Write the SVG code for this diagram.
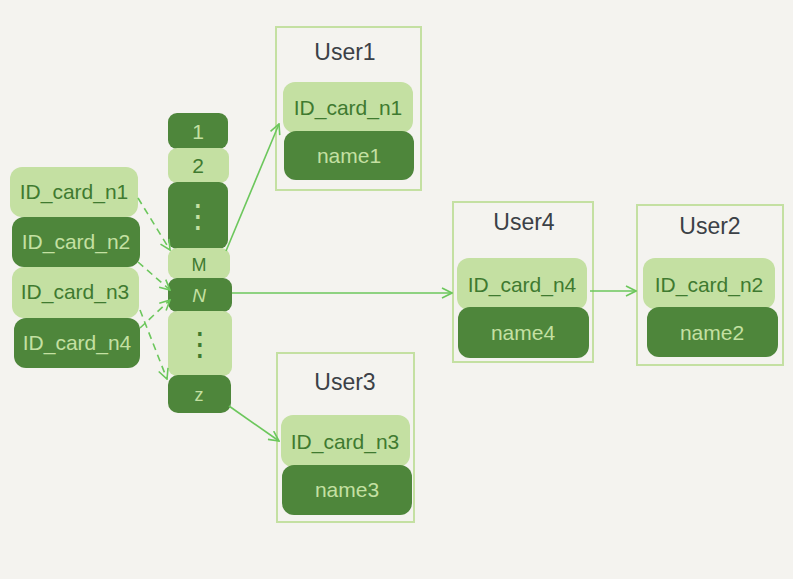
<svg xmlns="http://www.w3.org/2000/svg" width="793" height="579" viewBox="0 0 793 579">
<defs>
<marker id="ah" viewBox="0 0 12 12" refX="11" refY="6" markerWidth="12" markerHeight="12" markerUnits="userSpaceOnUse" orient="auto">
<path d="M1,1 L11,6 L1,11" fill="none" stroke="#6cc75c" stroke-width="1.6"/>
</marker>
<style>
.lt{fill:#c4e0a2}
.dk{fill:#4e863b}
.tl{font-family:"Liberation Sans",Arial,sans-serif;font-size:21px;fill:#3f7a30;text-anchor:middle}
.td{font-family:"Liberation Sans",Arial,sans-serif;font-size:21px;fill:#c4e0a2;text-anchor:middle}
.ti{font-family:"Liberation Sans",Arial,sans-serif;font-size:23px;fill:#3b4046;text-anchor:middle}
.dots{font-family:"DejaVu Sans",sans-serif;font-size:32px}
.frame{fill:none;stroke:#c4e0a2;stroke-width:2}
.cn{fill:none;stroke:#6cc75c;stroke-width:1.6;marker-end:url(#ah)}
.ds{stroke-dasharray:7,5}
</style>
</defs>
<rect width="793" height="579" fill="#f4f3ef"/>

<g id="keys">
<g id="k1"><rect class="lt" x="10" y="167" width="128" height="50" rx="12"/><text class="tl" x="74" y="199">ID_card_n1</text></g>
<g id="k2"><rect class="dk" x="12" y="217" width="128" height="50" rx="12"/><text class="td" x="76" y="249">ID_card_n2</text></g>
<g id="k3"><rect class="lt" x="12" y="267" width="127" height="51" rx="12"/><text class="tl" x="75" y="299">ID_card_n3</text></g>
<g id="k4"><rect class="dk" x="14" y="318" width="126" height="50" rx="12"/><text class="td" x="77" y="350">ID_card_n4</text></g>
</g>

<g id="index">
<g id="i1"><rect class="dk" x="168" y="113" width="60" height="36" rx="9"/><text class="td" x="198" y="139">1</text></g>
<g id="i2"><rect class="lt" x="168" y="148" width="61" height="35" rx="9"/><text class="tl" x="198" y="173">2</text></g>
<g id="i3"><rect class="dk" x="168" y="182" width="60" height="67" rx="9"/><text class="td dots" x="198" y="227">⋮</text></g>
<g id="iM"><rect class="lt" x="168" y="248" width="62" height="31" rx="9"/><text class="tl" x="199" y="271" style="font-size:18px">M</text></g>
<g id="iN"><rect class="dk" x="168" y="278" width="64" height="34" rx="9"/><text class="td" x="199" y="302" style="font-size:19px;font-style:italic">N</text></g>
<g id="i6"><rect class="lt" x="168" y="311" width="64" height="65" rx="9"/><text class="tl dots" x="200" y="355">⋮</text></g>
<g id="iz"><rect class="dk" x="168" y="375" width="63" height="38" rx="10"/><text class="td" x="199" y="401" style="font-size:18px">z</text></g>
</g>

<g id="user1">
<rect class="frame" x="276" y="27" width="145" height="163"/>
<text class="ti" x="345" y="60">User1</text>
<rect class="lt" x="283" y="82" width="130" height="51" rx="12"/><text class="tl" x="348" y="115">ID_card_n1</text>
<rect class="dk" x="284" y="131" width="130" height="49" rx="12"/><text class="td" x="349" y="163">name1</text>
</g>

<g id="user4">
<rect class="frame" x="453" y="202" width="140" height="160"/>
<text class="ti" x="524" y="230">User4</text>
<rect class="lt" x="457" y="258" width="130" height="52" rx="12"/><text class="tl" x="522" y="292">ID_card_n4</text>
<rect class="dk" x="458" y="307" width="131" height="51" rx="12"/><text class="td" x="523" y="340">name4</text>
</g>

<g id="user2">
<rect class="frame" x="637" y="205" width="146" height="160"/>
<text class="ti" x="710" y="234">User2</text>
<rect class="lt" x="643" y="258" width="132" height="51" rx="12"/><text class="tl" x="709" y="292">ID_card_n2</text>
<rect class="dk" x="647" y="307" width="131" height="50" rx="12"/><text class="td" x="712" y="340">name2</text>
</g>

<g id="user3">
<rect class="frame" x="277" y="353" width="137" height="169"/>
<text class="ti" x="345" y="390">User3</text>
<rect class="lt" x="281" y="415" width="129" height="52" rx="12"/><text class="tl" x="345" y="449">ID_card_n3</text>
<rect class="dk" x="282" y="465" width="130" height="50" rx="12"/><text class="td" x="347" y="497">name3</text>
</g>

<g id="connectors">
<path class="cn" d="M226,251 L279,124"/>
<path class="cn" d="M232,293 L452,293"/>
<path class="cn" d="M590,291 L636,291"/>
<path class="cn" d="M229,406 L279,441"/>
<path class="cn ds" d="M138,198 L170,250"/>
<path class="cn ds" d="M138,262 L170,290"/>
<path class="cn ds" d="M140,328 L170,300"/>
<path class="cn ds" d="M140,310 L167,379"/>
</g>
</svg>
